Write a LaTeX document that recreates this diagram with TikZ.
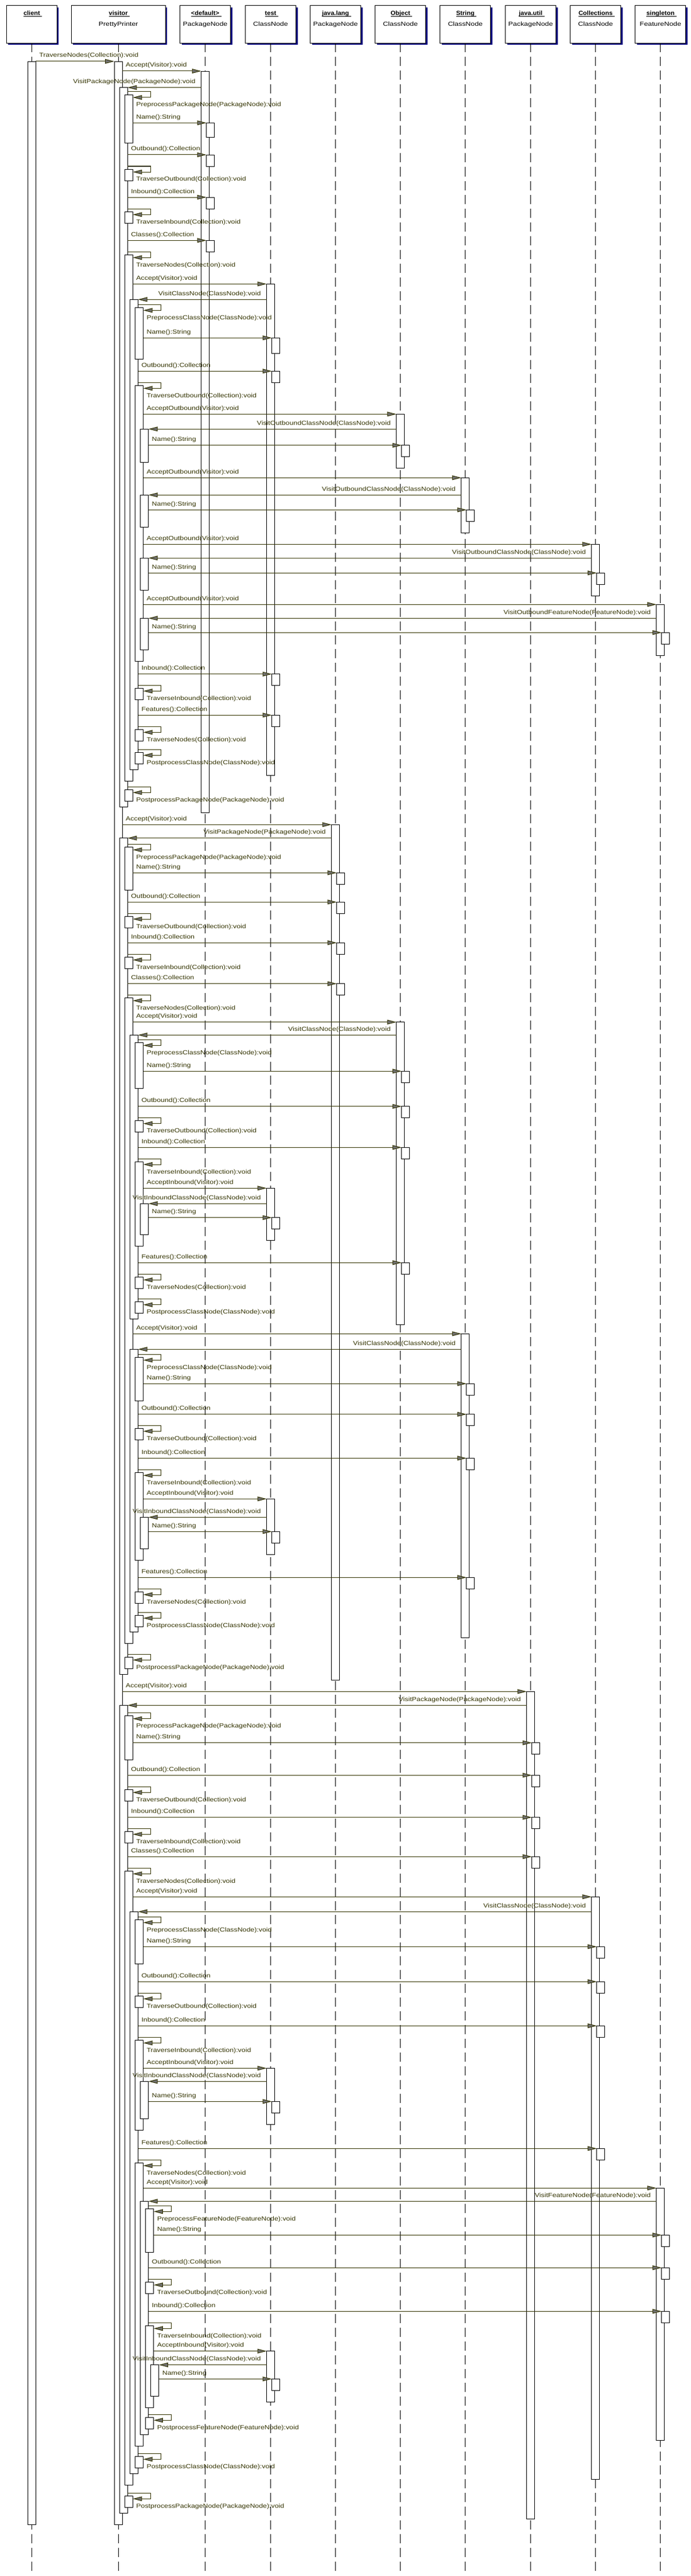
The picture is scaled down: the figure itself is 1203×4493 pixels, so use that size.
\documentclass[tikz,border=0pt]{standalone}
\usepackage{fontspec}
\setmainfont{Liberation Sans}[FakeStretch=1.19]
\newfontfamily\namefont{Liberation Sans}[FakeStretch=1.06]
\usetikzlibrary{arrows.meta,calc}
\definecolor{msgcol}{RGB}{51,51,0}
\definecolor{shadowcol}{RGB}{0,0,128}
\definecolor{tipfill}{RGB}{112,112,112}
\newcommand\msgsize{\fontsize{10.4}{12}\selectfont}
\tikzset{
  lifeline/.style={draw=black, line width=0.9pt, dash pattern=on 16pt off 8pt},
  actbar/.style={draw=black, fill=white, line width=0.9pt, minimum width=14pt, inner sep=0pt, outer sep=0pt, anchor=north},
  msg/.style={draw=msgcol, line width=1pt, -{Triangle[length=16pt,width=8pt,fill=tipfill]}},
  lbl/.style={text=msgcol, inner sep=0pt, outer sep=0pt, font=\msgsize},
  headtxt/.style={text=black, inner sep=0pt, outer sep=0pt, font=\msgsize},
  headname/.style={text=black, inner sep=0pt, outer sep=0pt, font=\msgsize\namefont\bfseries},
  headbox/.style={draw=black, fill=white, line width=1pt, minimum height=65.5pt, inner sep=0pt, outer sep=0pt, anchor=north},
  headshadow/.style={fill=shadowcol, draw=none, minimum height=65.5pt, inner sep=0pt, outer sep=0pt, anchor=north},
}
\def\xC{55.4}\def\xV{206.2}\def\xD{357.5}\def\xT{471.5}\def\xJL{584.6}
\def\xO{697.7}\def\xS{810.8}\def\xJU{924.6}\def\xCO{1037.7}\def\xSI{1150.8}
\def\dd{9.1}
\newcommand\head[5]{%
  \node[headshadow, minimum width=#3] (#1s) at ($(#2,10)+(3,3)$) {};
  \node[headbox, minimum width=#3] (#1) at (#2,10) {};
  \node[headname, anchor=base] (#1n) at (#2,27) {#4};
  \draw[line width=0.9pt] ($(#1n.base west)+(0,1.8)$) -- ($(#1n.base east)+(3.5,1.8)$);
  \node[headtxt, anchor=base] (#1c) at (#2,45.5) {#5};
  \draw[lifeline] (#1.south) -- ($(#1.south)+(0,4408)$);}
\newcommand\abar[4]{\node[actbar, minimum height={(#4)-(#3)}] (#1) at (#2,#3) {};}
\newcommand\call[3]{%
  \draw[msg] (#1.east |- #2.north west) -- (#2.north west);
  \node[lbl, anchor=base west] (t#2) at ($(#1.east |- #2.north west)+(6,-7)$) {#3};}
\newcommand\back[3]{%
  \draw[msg] (#1.west |- #2.north east) -- (#2.north east);
  \node[lbl, anchor=base east] (t#2) at ($(#1.west |- #2.north east)+(-10,-7)$) {#3};}
\newcommand\selfc[3]{%
  \draw[msg] ($(#1.east |- #2.north east)+(0,-5)$) -- ++(40,0) |- ($(#2.north east)+(0,5)$);
  \node[lbl, anchor=base west] (t#2) at ($(#2.north east)+(6,21)$) {#3};}
\begin{document}
\begin{tikzpicture}[x=1pt,y=-1pt]
\useasboundingbox (0,0) rectangle (1203,4493);
\fill[white] (0,0) rectangle (1203,4493);
% headers
\head{hC}{\xC}{88}{client}{}
\head{hV}{\xV}{164}{visitor}{PrettyPrinter}
\head{hD}{\xD}{88}{\textless default\textgreater}{PackageNode}
\head{hT}{\xT}{88}{test}{ClassNode}
\head{hJL}{\xJL}{88}{java.lang}{PackageNode}
\head{hO}{\xO}{88}{Object}{ClassNode}
\head{hS}{\xS}{88}{String}{ClassNode}
\head{hJU}{\xJU}{88}{java.util}{PackageNode}
\head{hCO}{\xCO}{88}{Collections}{ClassNode}
\head{hSI}{\xSI}{88}{singleton}{FeatureNode}
% level 0 bars
\abar{c0}{\xC}{107}{4403.3}
\abar{v0}{\xV}{107}{4403.3}
\abar{d0}{\xD}{124}{1417.3}
\abar{jl0}{\xJL}{1438.3}{2930}
\abar{ju0}{\xJU}{2950.3}{4393.3}
\abar{t0a}{\xT}{495.3}{1352.3}
\abar{o0a}{\xO}{722.3}{816}
\abar{s0a}{\xS}{833.3}{929.3}
\abar{co0a}{\xCO}{949.3}{1039.3}
\abar{si0a}{\xSI}{1054.3}{1143.3}
\abar{o0b}{\xO}{1782.7}{2310}
\abar{t0b}{\xT}{2072.3}{2163.3}
\abar{s0b}{\xS}{2326.3}{2856.7}
\abar{t0c}{\xT}{2614.3}{2711.3}
\abar{co0b}{\xCO}{3308.3}{4324.3}
\abar{t0d}{\xT}{3607.3}{3705.3}
\abar{si0b}{\xSI}{3816.3}{4256.3}
\abar{t0e}{\xT}{4100.7}{4189.3}
% level 1 callee bars
\abar{da}{\xD+\dd}{214.3}{239}
\abar{db}{\xD+\dd}{270}{290}
\abar{dc}{\xD+\dd}{344}{364}
\abar{ddd}{\xD+\dd}{419.3}{439}
\abar{ta}{\xT+\dd}{589.3}{616.3}
\abar{tb}{\xT+\dd}{647.3}{667.3}
\abar{tc}{\xT+\dd}{1175.7}{1195}
\abar{td}{\xT+\dd}{1247.3}{1267.3}
\abar{oa}{\xO+\dd}{776.7}{796}
\abar{sa}{\xS+\dd}{889.3}{909.3}
\abar{coa}{\xCO+\dd}{999.3}{1019.3}
\abar{sia}{\xSI+\dd}{1103.3}{1123.3}
\abar{jla}{\xJL+\dd}{1522.3}{1542.3}
\abar{jlb}{\xJL+\dd}{1573.3}{1593.3}
\abar{jlc}{\xJL+\dd}{1644.3}{1664.3}
\abar{jld}{\xJL+\dd}{1715.7}{1735.7}
\abar{ob}{\xO+\dd}{1868.3}{1888.3}
\abar{oc}{\xO+\dd}{1929.7}{1949.7}
\abar{od}{\xO+\dd}{2001.3}{2021}
\abar{oe}{\xO+\dd}{2202.3}{2222.3}
\abar{te}{\xT+\dd}{2123.7}{2143.3}
\abar{sb}{\xS+\dd}{2413.3}{2433.3}
\abar{sc}{\xS+\dd}{2466.7}{2486.3}
\abar{sd}{\xS+\dd}{2543.3}{2563.3}
\abar{se}{\xS+\dd}{2751.3}{2771.3}
\abar{tf}{\xT+\dd}{2671.3}{2691.3}
\abar{jua}{\xJU+\dd}{3039.7}{3059.3}
\abar{jub}{\xJU+\dd}{3096.3}{3116.3}
\abar{juc}{\xJU+\dd}{3169.7}{3189.3}
\abar{jud}{\xJU+\dd}{3238.3}{3258.3}
\abar{cob}{\xCO+\dd}{3395.3}{3415.3}
\abar{coc}{\xCO+\dd}{3456.3}{3476.3}
\abar{cod}{\xCO+\dd}{3533.3}{3553.3}
\abar{coe}{\xCO+\dd}{3747.3}{3767.3}
\abar{tg}{\xT+\dd}{3665.3}{3685.3}
\abar{sib}{\xSI+\dd}{3898.3}{3918.3}
\abar{sic}{\xSI+\dd}{3955.3}{3975.3}
\abar{sid}{\xSI+\dd}{4031.3}{4051.3}
\abar{th}{\xT+\dd}{4149.3}{4169.3}
% visitor level 1
\abar{v1a}{\xV+\dd}{152.7}{1407.3}
\abar{v1b}{\xV+\dd}{1461.7}{2920}
\abar{v1c}{\xV+\dd}{2974.3}{4383.3}
% visitor level 2
\abar{v2a}{\xV+2*\dd}{165}{249}
\abar{v2b}{\xV+2*\dd}{295}{315}
\abar{v2c}{\xV+2*\dd}{369.3}{389}
\abar{v2d}{\xV+2*\dd}{444.3}{1362.3}
\abar{v2e}{\xV+2*\dd}{1377.3}{1397.3}
\abar{v2f}{\xV+2*\dd}{1477.3}{1552.3}
\abar{v2g}{\xV+2*\dd}{1598}{1618.3}
\abar{v2h}{\xV+2*\dd}{1669.3}{1689.3}
\abar{v2i}{\xV+2*\dd}{1740.3}{2866.7}
\abar{v2j}{\xV+2*\dd}{2890.3}{2910}
\abar{v2k}{\xV+2*\dd}{2992.7}{3069}
\abar{v2l}{\xV+2*\dd}{3121.3}{3141.3}
\abar{v2m}{\xV+2*\dd}{3194.3}{3214.3}
\abar{v2n}{\xV+2*\dd}{3263.3}{4334.3}
\abar{v2o}{\xV+2*\dd}{4353.3}{4373.3}
% visitor level 3
\abar{v3a}{\xV+3*\dd}{522.3}{1342.3}
\abar{v3b}{\xV+3*\dd}{1805.3}{2300}
\abar{v3c}{\xV+3*\dd}{2353.3}{2846.7}
\abar{v3d}{\xV+3*\dd}{3334.3}{4314.3}
% visitor level 4
\abar{v4a}{\xV+4*\dd}{536.3}{626.3}
\abar{v4b}{\xV+4*\dd}{672.3}{1153.3}
\abar{v4c}{\xV+4*\dd}{1200.3}{1220}
\abar{v4d}{\xV+4*\dd}{1272.3}{1292.3}
\abar{v4e}{\xV+4*\dd}{1312.3}{1332.3}
\abar{v4f}{\xV+4*\dd}{1818.3}{1898.3}
\abar{v4g}{\xV+4*\dd}{1954.7}{1974.7}
\abar{v4h}{\xV+4*\dd}{2026}{2173.3}
\abar{v4i}{\xV+4*\dd}{2227.3}{2247.3}
\abar{v4j}{\xV+4*\dd}{2270.7}{2290.7}
\abar{v4k}{\xV+4*\dd}{2367.3}{2443.3}
\abar{v4l}{\xV+4*\dd}{2491.3}{2511.3}
\abar{v4m}{\xV+4*\dd}{2568.3}{2721}
\abar{v4n}{\xV+4*\dd}{2776.3}{2796.3}
\abar{v4o}{\xV+4*\dd}{2817.3}{2837}
\abar{v4p}{\xV+4*\dd}{3348.3}{3425}
\abar{v4q}{\xV+4*\dd}{3481.3}{3501.3}
\abar{v4r}{\xV+4*\dd}{3558.3}{3715.3}
\abar{v4s}{\xV+4*\dd}{3772.3}{4266.3}
\abar{v4t}{\xV+4*\dd}{4284.3}{4304.3}
% visitor level 5
\abar{v5a}{\xV+5*\dd}{748.3}{806}
\abar{v5b}{\xV+5*\dd}{863.3}{919.3}
\abar{v5c}{\xV+5*\dd}{973.3}{1029.3}
\abar{v5d}{\xV+5*\dd}{1078.3}{1133.3}
\abar{v5e}{\xV+5*\dd}{2099.3}{2153.3}
\abar{v5f}{\xV+5*\dd}{2646.3}{2701}
\abar{v5g}{\xV+5*\dd}{3630.3}{3695.3}
\abar{v5h}{\xV+5*\dd}{3839.3}{4246.3}
% visitor level 6 and 7
\abar{v6a}{\xV+6*\dd}{3852.3}{3928.3}
\abar{v6b}{\xV+6*\dd}{3980.3}{4000.3}
\abar{v6c}{\xV+6*\dd}{4056.3}{4199.3}
\abar{v6d}{\xV+6*\dd}{4216.3}{4236.3}
\abar{v7a}{\xV+7*\dd}{4124.7}{4179}
% ---------------- messages ----------------
\call{c0}{v0}{TraverseNodes(Collection):void}
\call{v0}{d0}{Accept(Visitor):void}
\back{d0}{v1a}{VisitPackageNode(PackageNode):void}
\selfc{v1a}{v2a}{PreprocessPackageNode(PackageNode):void}
\call{v2a}{da}{Name():String}
\call{v1a}{db}{Outbound():Collection}
\selfc{v1a}{v2b}{TraverseOutbound(Collection):void}
\call{v1a}{dc}{Inbound():Collection}
\selfc{v1a}{v2c}{TraverseInbound(Collection):void}
\call{v1a}{ddd}{Classes():Collection}
\selfc{v1a}{v2d}{TraverseNodes(Collection):void}
\call{v2d}{t0a}{Accept(Visitor):void}
\back{t0a}{v3a}{VisitClassNode(ClassNode):void}
\selfc{v3a}{v4a}{PreprocessClassNode(ClassNode):void}
\call{v4a}{ta}{Name():String}
\call{v3a}{tb}{Outbound():Collection}
\selfc{v3a}{v4b}{TraverseOutbound(Collection):void}
\call{v4b}{o0a}{AcceptOutbound(Visitor):void}
\back{o0a}{v5a}{VisitOutboundClassNode(ClassNode):void}
\call{v5a}{oa}{Name():String}
\call{v4b}{s0a}{AcceptOutbound(Visitor):void}
\back{s0a}{v5b}{VisitOutboundClassNode(ClassNode):void}
\call{v5b}{sa}{Name():String}
\call{v4b}{co0a}{AcceptOutbound(Visitor):void}
\back{co0a}{v5c}{VisitOutboundClassNode(ClassNode):void}
\call{v5c}{coa}{Name():String}
\call{v4b}{si0a}{AcceptOutbound(Visitor):void}
\back{si0a}{v5d}{VisitOutboundFeatureNode(FeatureNode):void}
\call{v5d}{sia}{Name():String}
\call{v3a}{tc}{Inbound():Collection}
\selfc{v3a}{v4c}{TraverseInbound(Collection):void}
\call{v3a}{td}{Features():Collection}
\selfc{v3a}{v4d}{TraverseNodes(Collection):void}
\selfc{v3a}{v4e}{PostprocessClassNode(ClassNode):void}
\selfc{v1a}{v2e}{PostprocessPackageNode(PackageNode):void}
% java.lang
\call{v0}{jl0}{Accept(Visitor):void}
\back{jl0}{v1b}{VisitPackageNode(PackageNode):void}
\selfc{v1b}{v2f}{PreprocessPackageNode(PackageNode):void}
\call{v2f}{jla}{Name():String}
\call{v1b}{jlb}{Outbound():Collection}
\selfc{v1b}{v2g}{TraverseOutbound(Collection):void}
\call{v1b}{jlc}{Inbound():Collection}
\selfc{v1b}{v2h}{TraverseInbound(Collection):void}
\call{v1b}{jld}{Classes():Collection}
\selfc{v1b}{v2i}{TraverseNodes(Collection):void}
\call{v2i}{o0b}{Accept(Visitor):void}
\back{o0b}{v3b}{VisitClassNode(ClassNode):void}
\selfc{v3b}{v4f}{PreprocessClassNode(ClassNode):void}
\call{v4f}{ob}{Name():String}
\call{v3b}{oc}{Outbound():Collection}
\selfc{v3b}{v4g}{TraverseOutbound(Collection):void}
\call{v3b}{od}{Inbound():Collection}
\selfc{v3b}{v4h}{TraverseInbound(Collection):void}
\call{v4h}{t0b}{AcceptInbound(Visitor):void}
\back{t0b}{v5e}{VisitInboundClassNode(ClassNode):void}
\call{v5e}{te}{Name():String}
\call{v3b}{oe}{Features():Collection}
\selfc{v3b}{v4i}{TraverseNodes(Collection):void}
\selfc{v3b}{v4j}{PostprocessClassNode(ClassNode):void}
\call{v2i}{s0b}{Accept(Visitor):void}
\back{s0b}{v3c}{VisitClassNode(ClassNode):void}
\selfc{v3c}{v4k}{PreprocessClassNode(ClassNode):void}
\call{v4k}{sb}{Name():String}
\call{v3c}{sc}{Outbound():Collection}
\selfc{v3c}{v4l}{TraverseOutbound(Collection):void}
\call{v3c}{sd}{Inbound():Collection}
\selfc{v3c}{v4m}{TraverseInbound(Collection):void}
\call{v4m}{t0c}{AcceptInbound(Visitor):void}
\back{t0c}{v5f}{VisitInboundClassNode(ClassNode):void}
\call{v5f}{tf}{Name():String}
\call{v3c}{se}{Features():Collection}
\selfc{v3c}{v4n}{TraverseNodes(Collection):void}
\selfc{v3c}{v4o}{PostprocessClassNode(ClassNode):void}
\selfc{v1b}{v2j}{PostprocessPackageNode(PackageNode):void}
% java.util
\call{v0}{ju0}{Accept(Visitor):void}
\back{ju0}{v1c}{VisitPackageNode(PackageNode):void}
\selfc{v1c}{v2k}{PreprocessPackageNode(PackageNode):void}
\call{v2k}{jua}{Name():String}
\call{v1c}{jub}{Outbound():Collection}
\selfc{v1c}{v2l}{TraverseOutbound(Collection):void}
\call{v1c}{juc}{Inbound():Collection}
\selfc{v1c}{v2m}{TraverseInbound(Collection):void}
\call{v1c}{jud}{Classes():Collection}
\selfc{v1c}{v2n}{TraverseNodes(Collection):void}
\call{v2n}{co0b}{Accept(Visitor):void}
\back{co0b}{v3d}{VisitClassNode(ClassNode):void}
\selfc{v3d}{v4p}{PreprocessClassNode(ClassNode):void}
\call{v4p}{cob}{Name():String}
\call{v3d}{coc}{Outbound():Collection}
\selfc{v3d}{v4q}{TraverseOutbound(Collection):void}
\call{v3d}{cod}{Inbound():Collection}
\selfc{v3d}{v4r}{TraverseInbound(Collection):void}
\call{v4r}{t0d}{AcceptInbound(Visitor):void}
\back{t0d}{v5g}{VisitInboundClassNode(ClassNode):void}
\call{v5g}{tg}{Name():String}
\call{v3d}{coe}{Features():Collection}
\selfc{v3d}{v4s}{TraverseNodes(Collection):void}
\call{v4s}{si0b}{Accept(Visitor):void}
\back{si0b}{v5h}{VisitFeatureNode(FeatureNode):void}
\selfc{v5h}{v6a}{PreprocessFeatureNode(FeatureNode):void}
\call{v6a}{sib}{Name():String}
\call{v5h}{sic}{Outbound():Collection}
\selfc{v5h}{v6b}{TraverseOutbound(Collection):void}
\call{v5h}{sid}{Inbound():Collection}
\selfc{v5h}{v6c}{TraverseInbound(Collection):void}
\call{v6c}{t0e}{AcceptInbound(Visitor):void}
\back{t0e}{v7a}{VisitInboundClassNode(ClassNode):void}
\call{v7a}{th}{Name():String}
\selfc{v5h}{v6d}{PostprocessFeatureNode(FeatureNode):void}
\selfc{v3d}{v4t}{PostprocessClassNode(ClassNode):void}
\selfc{v1c}{v2o}{PostprocessPackageNode(PackageNode):void}
\end{tikzpicture}
\end{document}
